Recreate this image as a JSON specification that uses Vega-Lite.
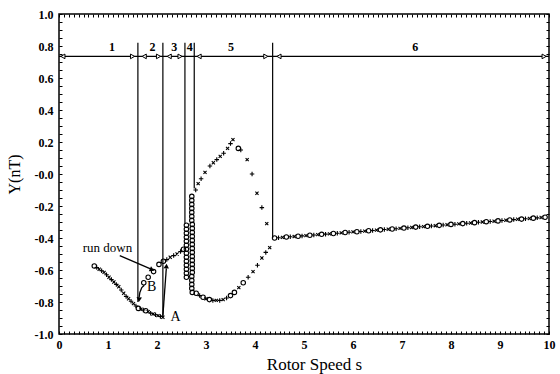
{
  "$schema": "https://vega.github.io/schema/vega-lite/v6.json",
  "width": 490,
  "height": 320,
  "autosize": "none",
  "padding": {"left": 59, "top": 14, "right": 11, "bottom": 40},
  "config": {
    "view": {"stroke": "black", "strokeWidth": 1.5},
    "font": "Liberation Serif"
  },
  "datasets": {
    "pts": [
      {"x":0.72,"y":-0.575,"m":"o"},{"x":0.77,"y":-0.585,"m":"+"},{"x":0.82,"y":-0.595,"m":"x"},{"x":0.87,"y":-0.605,"m":"+"},{"x":0.92,"y":-0.615,"m":"x"},{"x":0.97,"y":-0.63,"m":"+"},{"x":1.02,"y":-0.645,"m":"x"},{"x":1.07,"y":-0.66,"m":"+"},{"x":1.12,"y":-0.675,"m":"x"},{"x":1.17,"y":-0.69,"m":"+"},{"x":1.22,"y":-0.705,"m":"x"},{"x":1.27,"y":-0.725,"m":"+"},{"x":1.32,"y":-0.745,"m":"x"},{"x":1.37,"y":-0.765,"m":"+"},{"x":1.42,"y":-0.78,"m":"x"},{"x":1.47,"y":-0.795,"m":"+"},{"x":1.52,"y":-0.81,"m":"x"},{"x":1.57,"y":-0.825,"m":"+"},{"x":1.62,"y":-0.84,"m":"o"},{"x":1.67,"y":-0.845,"m":"x"},{"x":1.72,"y":-0.85,"m":"+"},{"x":1.77,"y":-0.855,"m":"o"},{"x":1.82,"y":-0.86,"m":"x"},{"x":1.87,"y":-0.87,"m":"+"},{"x":1.92,"y":-0.875,"m":"x"},{"x":1.97,"y":-0.88,"m":"+"},{"x":2.02,"y":-0.885,"m":"x"},{"x":2.07,"y":-0.89,"m":"+"},{"x":2.12,"y":-0.895,"m":"x"},
      {"x":1.73,"y":-0.68,"m":"o"},{"x":1.82,"y":-0.645,"m":"o"},{"x":1.93,"y":-0.61,"m":"o"},{"x":2.04,"y":-0.565,"m":"o"},{"x":2.13,"y":-0.545,"m":"o"},{"x":2.2,"y":-0.535,"m":"+"},{"x":2.27,"y":-0.52,"m":"x"},{"x":2.34,"y":-0.51,"m":"+"},{"x":2.41,"y":-0.5,"m":"x"},{"x":2.48,"y":-0.485,"m":"+"},{"x":2.54,"y":-0.47,"m":"o"},
      {"x":2.71,"y":-0.14,"m":"o"},{"x":2.71,"y":-0.165,"m":"o"},{"x":2.71,"y":-0.19,"m":"o"},{"x":2.71,"y":-0.215,"m":"o"},{"x":2.71,"y":-0.24,"m":"o"},{"x":2.71,"y":-0.265,"m":"o"},{"x":2.71,"y":-0.29,"m":"o"},{"x":2.72,"y":-0.315,"m":"o"},{"x":2.72,"y":-0.34,"m":"o"},{"x":2.72,"y":-0.365,"m":"o"},{"x":2.72,"y":-0.39,"m":"o"},{"x":2.72,"y":-0.415,"m":"o"},{"x":2.72,"y":-0.44,"m":"o"},{"x":2.72,"y":-0.465,"m":"o"},{"x":2.72,"y":-0.49,"m":"o"},{"x":2.72,"y":-0.515,"m":"o"},{"x":2.72,"y":-0.54,"m":"o"},{"x":2.72,"y":-0.565,"m":"o"},{"x":2.72,"y":-0.59,"m":"o"},{"x":2.72,"y":-0.615,"m":"o"},{"x":2.71,"y":-0.64,"m":"o"},{"x":2.71,"y":-0.665,"m":"o"},{"x":2.71,"y":-0.69,"m":"o"},{"x":2.71,"y":-0.715,"m":"o"},{"x":2.72,"y":-0.74,"m":"o"},
      {"x":2.6,"y":-0.32,"m":"o"},{"x":2.6,"y":-0.345,"m":"o"},{"x":2.6,"y":-0.37,"m":"o"},{"x":2.6,"y":-0.395,"m":"o"},{"x":2.6,"y":-0.42,"m":"o"},{"x":2.6,"y":-0.445,"m":"o"},{"x":2.6,"y":-0.47,"m":"o"},{"x":2.6,"y":-0.495,"m":"o"},{"x":2.6,"y":-0.52,"m":"o"},{"x":2.6,"y":-0.545,"m":"o"},{"x":2.6,"y":-0.57,"m":"o"},{"x":2.6,"y":-0.595,"m":"o"},{"x":2.6,"y":-0.62,"m":"o"},{"x":2.6,"y":-0.645,"m":"o"},
      {"x":2.8,"y":-0.745,"m":"o"},{"x":2.87,"y":-0.76,"m":"+"},{"x":2.94,"y":-0.77,"m":"o"},{"x":3.0,"y":-0.78,"m":"x"},{"x":3.07,"y":-0.785,"m":"o"},{"x":3.14,"y":-0.79,"m":"+"},{"x":3.21,"y":-0.79,"m":"x"},{"x":3.28,"y":-0.79,"m":"+"},{"x":3.35,"y":-0.785,"m":"x"},{"x":3.42,"y":-0.775,"m":"+"},{"x":3.5,"y":-0.76,"m":"o"},{"x":3.58,"y":-0.74,"m":"o"},{"x":3.67,"y":-0.71,"m":"x"},{"x":3.76,"y":-0.68,"m":"o"},{"x":3.86,"y":-0.645,"m":"+"},{"x":3.96,"y":-0.61,"m":"x"},{"x":4.05,"y":-0.57,"m":"+"},{"x":4.14,"y":-0.525,"m":"x"},{"x":4.22,"y":-0.49,"m":"+"},{"x":4.3,"y":-0.46,"m":"x"},
      {"x":2.79,"y":-0.1,"m":"+"},{"x":2.84,"y":-0.06,"m":"x"},{"x":2.9,"y":-0.03,"m":"+"},{"x":2.98,"y":0.01,"m":"x"},{"x":3.08,"y":0.05,"m":"+"},{"x":3.15,"y":0.07,"m":"x"},{"x":3.22,"y":0.09,"m":"+"},{"x":3.29,"y":0.11,"m":"x"},{"x":3.36,"y":0.13,"m":"+"},{"x":3.44,"y":0.16,"m":"x"},{"x":3.5,"y":0.19,"m":"+"},{"x":3.55,"y":0.215,"m":"x"},{"x":3.66,"y":0.16,"m":"o"},{"x":3.71,"y":0.15,"m":"+"},{"x":3.84,"y":0.09,"m":"x"},{"x":3.94,"y":0.0,"m":"+"},{"x":4.04,"y":-0.12,"m":"x"},{"x":4.14,"y":-0.21,"m":"+"},{"x":4.24,"y":-0.31,"m":"x"},
      {"x":4.4,"y":-0.4,"m":"o"},{"x":4.48,"y":-0.398,"m":"+"},{"x":4.56,"y":-0.396,"m":"x"},{"x":4.64,"y":-0.394,"m":"o"},{"x":4.72,"y":-0.392,"m":"+"},{"x":4.8,"y":-0.391,"m":"x"},{"x":4.88,"y":-0.389,"m":"o"},{"x":4.96,"y":-0.387,"m":"+"},{"x":5.04,"y":-0.385,"m":"x"},{"x":5.12,"y":-0.383,"m":"o"},{"x":5.2,"y":-0.381,"m":"+"},{"x":5.28,"y":-0.379,"m":"x"},{"x":5.36,"y":-0.377,"m":"o"},{"x":5.44,"y":-0.376,"m":"+"},{"x":5.52,"y":-0.374,"m":"x"},{"x":5.6,"y":-0.372,"m":"o"},{"x":5.68,"y":-0.37,"m":"+"},{"x":5.76,"y":-0.368,"m":"x"},{"x":5.84,"y":-0.366,"m":"o"},{"x":5.92,"y":-0.364,"m":"+"},{"x":6.0,"y":-0.362,"m":"x"},{"x":6.08,"y":-0.361,"m":"o"},{"x":6.16,"y":-0.359,"m":"+"},{"x":6.24,"y":-0.357,"m":"x"},{"x":6.32,"y":-0.355,"m":"o"},{"x":6.4,"y":-0.353,"m":"+"},{"x":6.48,"y":-0.351,"m":"x"},{"x":6.56,"y":-0.349,"m":"o"},{"x":6.64,"y":-0.347,"m":"+"},{"x":6.72,"y":-0.345,"m":"x"},{"x":6.8,"y":-0.344,"m":"o"},{"x":6.88,"y":-0.342,"m":"+"},{"x":6.96,"y":-0.34,"m":"x"},{"x":7.04,"y":-0.338,"m":"o"},{"x":7.12,"y":-0.336,"m":"+"},{"x":7.2,"y":-0.334,"m":"x"},{"x":7.28,"y":-0.332,"m":"o"},{"x":7.36,"y":-0.33,"m":"+"},{"x":7.44,"y":-0.329,"m":"x"},{"x":7.52,"y":-0.327,"m":"o"},{"x":7.6,"y":-0.325,"m":"+"},{"x":7.68,"y":-0.323,"m":"x"},{"x":7.76,"y":-0.321,"m":"o"},{"x":7.84,"y":-0.319,"m":"+"},{"x":7.92,"y":-0.317,"m":"x"},{"x":8.0,"y":-0.315,"m":"o"},{"x":8.08,"y":-0.314,"m":"+"},{"x":8.16,"y":-0.312,"m":"x"},{"x":8.24,"y":-0.31,"m":"o"},{"x":8.32,"y":-0.308,"m":"+"},{"x":8.4,"y":-0.306,"m":"x"},{"x":8.48,"y":-0.304,"m":"o"},{"x":8.56,"y":-0.302,"m":"+"},{"x":8.64,"y":-0.3,"m":"x"},{"x":8.72,"y":-0.298,"m":"o"},{"x":8.8,"y":-0.297,"m":"+"},{"x":8.88,"y":-0.295,"m":"x"},{"x":8.96,"y":-0.293,"m":"o"},{"x":9.04,"y":-0.291,"m":"+"},{"x":9.12,"y":-0.289,"m":"x"},{"x":9.2,"y":-0.287,"m":"o"},{"x":9.28,"y":-0.285,"m":"+"},{"x":9.36,"y":-0.283,"m":"x"},{"x":9.44,"y":-0.282,"m":"o"},{"x":9.52,"y":-0.28,"m":"+"},{"x":9.6,"y":-0.278,"m":"x"},{"x":9.68,"y":-0.276,"m":"o"},{"x":9.76,"y":-0.274,"m":"+"},{"x":9.84,"y":-0.272,"m":"x"},{"x":9.92,"y":-0.27,"m":"o"}
    ],
    "vrules": [
      {"x":1.61,"y":0.82,"y2":-0.8},
      {"x":2.12,"y":0.82,"y2":-0.89},
      {"x":2.57,"y":0.82,"y2":-0.31},
      {"x":2.76,"y":0.82,"y2":-0.09},
      {"x":4.36,"y":0.82,"y2":-0.4}
    ],
    "hrule": [{"x":0,"x2":10,"y":0.735}],
    "segheads": [
      {"x":0.08,"y":0.735,"a":270},{"x":1.5,"y":0.735,"a":90},
      {"x":1.74,"y":0.735,"a":270},{"x":2.03,"y":0.735,"a":90},
      {"x":2.25,"y":0.735,"a":270},{"x":2.47,"y":0.735,"a":90},
      {"x":2.86,"y":0.735,"a":270},{"x":4.22,"y":0.735,"a":90},
      {"x":4.49,"y":0.735,"a":270},{"x":9.9,"y":0.735,"a":90}
    ],
    "seglabels": [
      {"x":1.08,"y":0.795,"t":"1"},{"x":1.91,"y":0.795,"t":"2"},{"x":2.35,"y":0.795,"t":"3"},
      {"x":2.67,"y":0.795,"t":"4"},{"x":3.51,"y":0.795,"t":"5"},{"x":7.27,"y":0.795,"t":"6"}
    ],
    "arrows": [
      {"g":"rd","o":1,"x":1.24,"y":-0.51},{"g":"rd","o":2,"x":1.88,"y":-0.594},
      {"g":"A","o":1,"x":2.12,"y":-0.885},{"g":"A","o":2,"x":2.19,"y":-0.59},
      {"g":"B","o":1,"x":1.74,"y":-0.695},{"g":"B","o":2,"x":1.69,"y":-0.71},{"g":"B","o":3,"x":1.65,"y":-0.74},{"g":"B","o":4,"x":1.636,"y":-0.77}
    ],
    "arrowheads": [
      {"x":1.9,"y":-0.598,"a":114},
      {"x":2.192,"y":-0.575,"a":4},
      {"x":1.634,"y":-0.785,"a":185}
    ],
    "notes": [
      {"x":0.99,"y":-0.4625,"t":"run down","s":13},
      {"x":2.38,"y":-0.894,"t":"A","s":14},
      {"x":1.89,"y":-0.706,"t":"B","s":14}
    ]
  },
  "layer": [
    {
      "layer": [
        {
          "data": {"name": "hrule"},
          "mark": {"type": "rule", "color": "black", "strokeWidth": 1.2},
          "encoding": {
            "x": {"field": "x", "type": "quantitative", "scale": {"domain": [0, 10], "nice": false},
              "axis": {"orient": "bottom", "tickCount": 100, "domain": false, "grid": false,
                "tickSize": -3, "tickColor": "black", "tickWidth": 1,
                "labelExpr": "abs(datum.value - round(datum.value)) < 0.001 ? format(round(datum.value), 'd') : ''",
                "labelOverlap": false, "labelFlush": false, "labelBound": false,
                "labelFont": "Liberation Serif", "labelFontWeight": "bold", "labelFontSize": 12, "labelColor": "black",
                "labelPadding": 8,
                "title": "Rotor Speed s", "titleFont": "Liberation Serif", "titleFontSize": 17, "titleFontWeight": "normal",
                "titleColor": "black", "titlePadding": 6, "titleX": 255}},
            "x2": {"field": "x2"},
            "y": {"field": "y", "type": "quantitative", "scale": {"domain": [-1, 1], "nice": false},
              "axis": {"orient": "left", "tickCount": 40, "domain": false, "grid": false,
                "tickSize": -3, "tickColor": "black", "tickWidth": 1,
                "labelExpr": "abs(datum.value * 5 - round(datum.value * 5)) < 0.001 ? (datum.value < 0.001 ? '-' : '') + format(abs(datum.value), '.1f') : ''",
                "labelOverlap": false, "labelFlush": false, "labelBound": false,
                "labelFont": "Liberation Serif", "labelFontWeight": "bold", "labelFontSize": 12, "labelColor": "black",
                "labelPadding": 9,
                "title": "Y(nT)", "titleFont": "Liberation Serif", "titleFontSize": 16, "titleFontWeight": "normal",
                "titleColor": "black", "titlePadding": 12}}
          }
        },
        {
          "data": {"name": "vrules"},
          "mark": {"type": "rule", "color": "black", "strokeWidth": 1.2},
          "encoding": {
            "x": {"field": "x", "type": "quantitative"},
            "y": {"field": "y", "type": "quantitative"},
            "y2": {"field": "y2"}
          }
        },
        {
          "data": {"name": "pts"},
          "mark": {"type": "point", "filled": false, "stroke": "black", "strokeWidth": 1.1, "size": 20, "opacity": 1},
          "encoding": {
            "x": {"field": "x", "type": "quantitative"},
            "y": {"field": "y", "type": "quantitative"},
            "shape": {"field": "m", "type": "nominal", "legend": null,
              "scale": {"domain": ["o", "+", "x"], "range": ["circle", "M-1,0L1,0M0,-1L0,1", "M-0.7,-0.7L0.7,0.7M-0.7,0.7L0.7,-0.7"]}}
          }
        },
        {
          "data": {"name": "segheads"},
          "mark": {"type": "point", "shape": "triangle-up", "filled": true, "fill": "white", "stroke": "black", "strokeWidth": 1, "size": 22, "opacity": 1},
          "encoding": {
            "x": {"field": "x", "type": "quantitative"},
            "y": {"field": "y", "type": "quantitative"},
            "angle": {"field": "a", "type": "quantitative", "scale": null}
          }
        },
        {
          "data": {"name": "arrows"},
          "mark": {"type": "line", "color": "black", "strokeWidth": 1.3},
          "encoding": {
            "x": {"field": "x", "type": "quantitative"},
            "y": {"field": "y", "type": "quantitative"},
            "detail": {"field": "g"},
            "order": {"field": "o", "type": "quantitative"}
          }
        },
        {
          "data": {"name": "arrowheads"},
          "mark": {"type": "point", "shape": "triangle-up", "filled": true, "color": "black", "size": 30, "opacity": 1},
          "encoding": {
            "x": {"field": "x", "type": "quantitative"},
            "y": {"field": "y", "type": "quantitative"},
            "angle": {"field": "a", "type": "quantitative", "scale": null}
          }
        },
        {
          "data": {"name": "seglabels"},
          "mark": {"type": "text", "font": "Liberation Serif", "fontWeight": "bold", "fontSize": 12, "color": "black", "baseline": "middle", "align": "center"},
          "encoding": {
            "x": {"field": "x", "type": "quantitative"},
            "y": {"field": "y", "type": "quantitative"},
            "text": {"field": "t"}
          }
        },
        {
          "data": {"name": "notes"},
          "mark": {"type": "text", "font": "Liberation Serif", "color": "black", "baseline": "middle", "align": "center"},
          "encoding": {
            "x": {"field": "x", "type": "quantitative"},
            "y": {"field": "y", "type": "quantitative"},
            "text": {"field": "t"},
            "size": {"field": "s", "type": "quantitative", "scale": null}
          }
        }
      ]
    },
    {
      "data": {"name": "hrule"},
      "mark": {"type": "rule", "opacity": 0},
      "encoding": {
        "x": {"field": "x", "type": "quantitative",
          "axis": {"orient": "top", "tickCount": 100, "domain": false, "grid": false, "labels": false, "title": null,
            "tickSize": -3, "tickColor": "black", "tickWidth": 1}},
        "y": {"field": "y", "type": "quantitative",
          "axis": {"orient": "right", "tickCount": 40, "domain": false, "grid": false, "labels": false, "title": null,
            "tickSize": -3, "tickColor": "black", "tickWidth": 1}}
      }
    }
  ],
  "resolve": {"axis": {"x": "independent", "y": "independent"}}
}
